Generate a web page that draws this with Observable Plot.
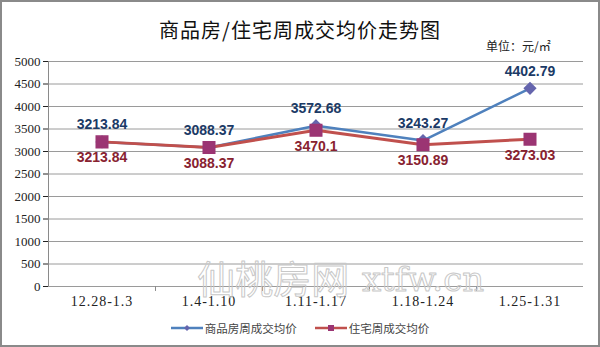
<!DOCTYPE html>
<html>
<head>
<meta charset="utf-8">
<script src="https://cdn.jsdelivr.net/npm/d3@7"></script>
<script src="https://cdn.jsdelivr.net/npm/@observablehq/plot@0.6"></script>
<style>
  html, body { margin: 0; padding: 0; background: #fff; }
  #wrap { position: relative; width: 600px; height: 347px; overflow: hidden; background: #fff; }
  #frame { position: absolute; left: 0; top: 0; width: 596px; height: 343px; border: 2px solid #8a8a8a; pointer-events: none; }
  #title { position: absolute; left: 0; width: 600px; top: 15px; text-align: center; font: 20px "Noto Sans CJK SC", sans-serif; color: #111; letter-spacing: 1px; }
  #unit { position: absolute; left: 486px; top: 37px; font: 12px "Noto Sans CJK SC", sans-serif; color: #222; }
  #legend { position: absolute; top: 320px; left: 0; width: 600px; display: flex; justify-content: center; gap: 18px; font: 11.5px "Noto Sans CJK SC", sans-serif; color: #444; }
  #legend span { display: inline-flex; align-items: center; gap: 2px; }
  #chart { position: absolute; left: 0; top: 0; }
  #chart svg g[aria-label="x-axis tick label"] text { letter-spacing: 1px; font-size: 14px; }
</style>
</head>
<body>
<div id="wrap">
  <div id="chart"></div>
  <div id="title">商品房/住宅周成交均价走势图</div>
  <div id="unit">单位：元/㎡</div>
  <div id="legend"></div>
  <div id="frame"></div>
</div>
<script>
const categories = ["12.28-1.3", "1.4-1.10", "1.11-1.17", "1.18-1.24", "1.25-1.31"];
const commercial = [3213.84, 3088.37, 3572.68, 3243.27, 4402.79];
const residential = [3213.84, 3088.37, 3470.1, 3150.89, 3273.03];
const yTicks = [0, 500, 1000, 1500, 2000, 2500, 3000, 3500, 4000, 4500, 5000];
const seriesNames = ["商品房周成交均价", "住宅周成交均价"];

const blueLine = "#4F81BD", blueMark = "#6565AD", blueText = "#1B3A66";
const redLine = "#C0504D", redMark = "#9B3573", redText = "#882230";

const idx = categories.map((_, i) => i);
const comm = idx.map(i => ({i, v: commercial[i]}));
const resi = idx.map(i => ({i, v: residential[i]}));
const bounds = idx.slice(0, -1).map(i => i + 0.5);

const plot = Plot.plot({
  width: 600,
  height: 347,
  marginLeft: 48,
  marginRight: 17,
  marginTop: 61,
  marginBottom: 61,
  style: {fontFamily: "'Liberation Serif', serif", fontSize: "13px", color: "#222", background: "transparent"},
  x: {type: "linear", domain: [-0.5, categories.length - 0.5], ticks: idx, tickFormat: i => categories[i], tickSize: 0, tickPadding: 10, label: null},
  y: {domain: [0, 5000], ticks: yTicks, tickSize: 5, tickPadding: 3, label: null, tickFormat: d => String(d)},
  marks: [
    Plot.ruleY(yTicks, {stroke: "#9a9a9a", strokeWidth: 1}),
    Plot.ruleX([-0.5], {stroke: "#8a8a8a"}),
    Plot.ruleX(bounds, {y1: 0, y2: -110, stroke: "#8a8a8a"}),
    Plot.text(["仙桃房网"], {x: 1.6, y: 0, dy: -6, text: d => d, fontSize: 38, fontFamily: "'Noto Sans CJK SC'", fill: "none", stroke: "#c8c8c8", strokeWidth: 1, letterSpacing: -1}),
    Plot.text(["xtfw.cn"], {x: 3.0, y: 0, dy: -6, text: d => d, fontSize: 34, fontFamily: "'DejaVu Serif'", fill: "none", stroke: "#c8c8c8", strokeWidth: 1}),
    Plot.line(comm, {x: "i", y: "v", stroke: blueLine, strokeWidth: 2.5}),
    Plot.line(resi, {x: "i", y: "v", stroke: redLine, strokeWidth: 3}),
    Plot.dot(comm, {x: "i", y: "v", symbol: "diamond2", r: 5, fill: blueMark, stroke: blueMark}),
    Plot.dot(resi, {x: "i", y: "v", symbol: "square", r: 6.5, fill: redMark, stroke: redMark}),
    Plot.text(comm, {x: "i", y: "v", text: d => String(d.v), dy: -17, fill: blueText, fontSize: 14, fontWeight: "bold", fontFamily: "'Liberation Sans', Arial, sans-serif"}),
    Plot.text(resi, {x: "i", y: "v", text: d => String(d.v), dy: 16, fill: redText, fontSize: 14, fontWeight: "bold", fontFamily: "'Liberation Sans', Arial, sans-serif"})
  ]
});
document.getElementById("chart").appendChild(plot);

// legend
const legend = document.getElementById("legend");
const specs = [
  {name: seriesNames[0], line: blueLine, mark: blueMark, shape: "diamond"},
  {name: seriesNames[1], line: redLine, mark: redMark, shape: "square"}
];
for (const s of specs) {
  const span = document.createElement("span");
  const icon = s.shape === "diamond"
    ? `<polygon points="16,3 19,6 16,9 13,6" fill="${s.mark}"/>`
    : `<rect x="13" y="3" width="6" height="6" fill="${s.mark}"/>`;
  span.innerHTML = `<svg width="32" height="12"><line x1="0" y1="6" x2="32" y2="6" stroke="${s.line}" stroke-width="2.5"/>${icon}</svg>${s.name}`;
  legend.appendChild(span);
}
</script>
</body>
</html>
